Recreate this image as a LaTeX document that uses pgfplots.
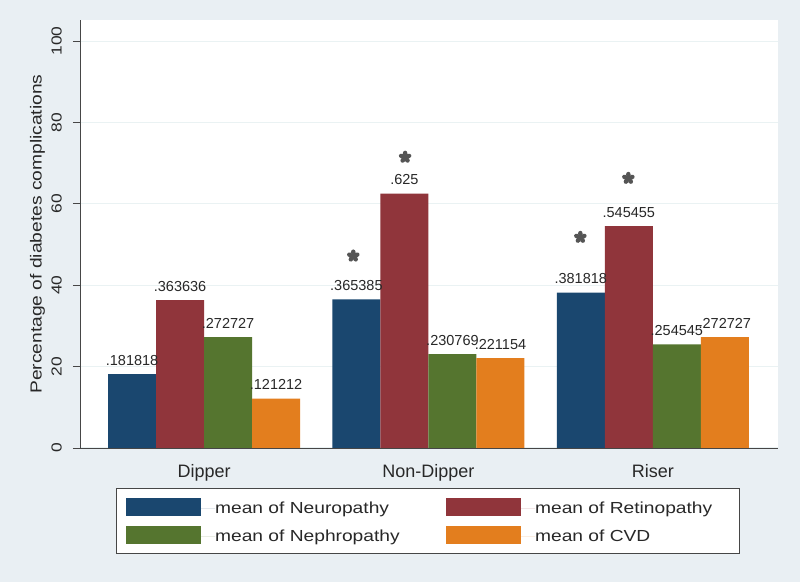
\documentclass[border=0pt]{standalone}
\usepackage{fontspec}
\setmainfont{Liberation Sans}
\newfontfamily\wide{Liberation Sans}[FakeStretch=1.2]
\usepackage{pgfplots}
\pgfplotsset{compat=1.18}

\definecolor{bgc}{RGB}{233,239,243}
\definecolor{gridc}{RGB}{234,242,243}
\definecolor{axc}{RGB}{70,70,70}
\definecolor{txtc}{RGB}{40,40,40}
\definecolor{starc}{RGB}{85,85,85}
\definecolor{c1}{RGB}{26,71,111}
\definecolor{c2}{RGB}{144,53,59}
\definecolor{c3}{RGB}{85,117,47}
\definecolor{c4}{RGB}{227,126,30}

% five-petal asterisk, as in the figure
\pgfdeclareplotmark{petal}{%
  \pgfpathcircle{\pgfpointorigin}{0.42\pgfplotmarksize}\pgfusepathqfill
  \foreach \a in {90,162,234,306,378}{%
    \pgfmathsetmacro\b{\a+90}%
    \pgfpathellipse{\pgfpointpolar{\a}{0.56\pgfplotmarksize}}%
      {\pgfpointpolar{\a}{0.44\pgfplotmarksize}}%
      {\pgfpointpolar{\b}{0.36\pgfplotmarksize}}%
    \pgfusepathqfill
  }%
}

\newcommand{\lw}[2]{\makebox[#1][l]{#2}}

\begin{document}
\begin{tikzpicture}
\fill[bgc] (0bp,0bp) rectangle (800bp,582bp);
\begin{axis}[
  at={(80bp,134bp)}, anchor=south west,
  scale only axis, width=698bp, height=428bp,
  xmin=-0.553, xmax=2.558,
  ymin=0, ymax=105.2,
  axis background/.style={fill=white},
  axis lines*=left,
  axis line style={color=axc, line width=0.9bp},
  xtick={0,1,2},
  xticklabels={Dipper,Non-Dipper,Riser},
  xtick style={draw=none},
  ytick={0,20,40,60,80,100},
  ytick style={color=axc, line width=0.9bp},
  tick align=outside,
  major tick length=7bp,
  ymajorgrids=true,
  grid style={color=gridc, line width=1bp},
  /pgf/number format/assume math mode=true,
  every tick label/.append style={text=txtc},
  yticklabel style={rotate=90, anchor=south, inner sep=0pt, yshift=11bp,
    font=\wide\fontsize{14.5bp}{17bp}\selectfont},
  xticklabel style={anchor=north, inner sep=0pt, yshift=-9bp,
    font=\fontsize{18bp}{21bp}\selectfont},
  ylabel={Percentage of diabetes complications},
  ylabel style={at={(rel axis cs:-0.0609,0.5)}, anchor=center, text=txtc,
    font=\wide\fontsize{16bp}{19bp}\selectfont},
  bar width=0.214,
  nodes near coords,
  point meta=explicit symbolic,
  every node near coord/.append style={anchor=base, inner sep=0pt, yshift=9bp,
    text=txtc, font=\fontsize{14.5bp}{17bp}\selectfont},
  legend columns=2,
  legend cell align=left,
  legend image code/.code={%
    \path[fill, draw=none] (0bp,-7.5bp) rectangle (75bp,10.5bp);
    \path (75bp,0bp) -- (89bp,0bp);},
  legend style={at={(0.498,-0.1694)}, anchor=center, draw=axc, fill=white,
    line width=0.8bp, inner xsep=10bp, inner ysep=9.5bp, row sep=10bp,
    column sep=0bp, text=txtc, font=\wide\fontsize{16bp}{19bp}\selectfont,
    nodes={inner sep=0pt}},
]
\addplot[ybar, bar shift=0, fill=c1, draw=none]
  coordinates {(-0.321,18.1818) [.181818] (0.679,36.5385) [.365385] (1.679,38.1818) [.381818]};
\addlegendentry{\lw{231bp}{mean of Neuropathy}}
\addplot[ybar, bar shift=0, fill=c2, draw=none]
  coordinates {(-0.107,36.3636) [.363636] (0.893,62.5) [.625] (1.893,54.5455) [.545455]};
\addlegendentry{\lw{194bp}{mean of Retinopathy}}
\addplot[ybar, bar shift=0, fill=c3, draw=none]
  coordinates {(0.107,27.2727) [.272727] (1.107,23.0769) [.230769] (2.107,25.4545) [.254545]};
\addlegendentry{\lw{231bp}{mean of Nephropathy}}
\addplot[ybar, bar shift=0, fill=c4, draw=none]
  coordinates {(0.321,12.1212) [.121212] (1.321,22.1154) [.221154] (2.321,27.2727) [.272727]};
\addlegendentry{\lw{194bp}{mean of CVD}}
% significance markers
\addplot[only marks, mark=petal, mark size=6.5bp, color=starc, nodes near coords={}, forget plot]
  coordinates {(0.665,47.2) (0.896,71.5) (1.677,51.8) (1.891,66.3)};
\end{axis}
\end{tikzpicture}
\end{document}
